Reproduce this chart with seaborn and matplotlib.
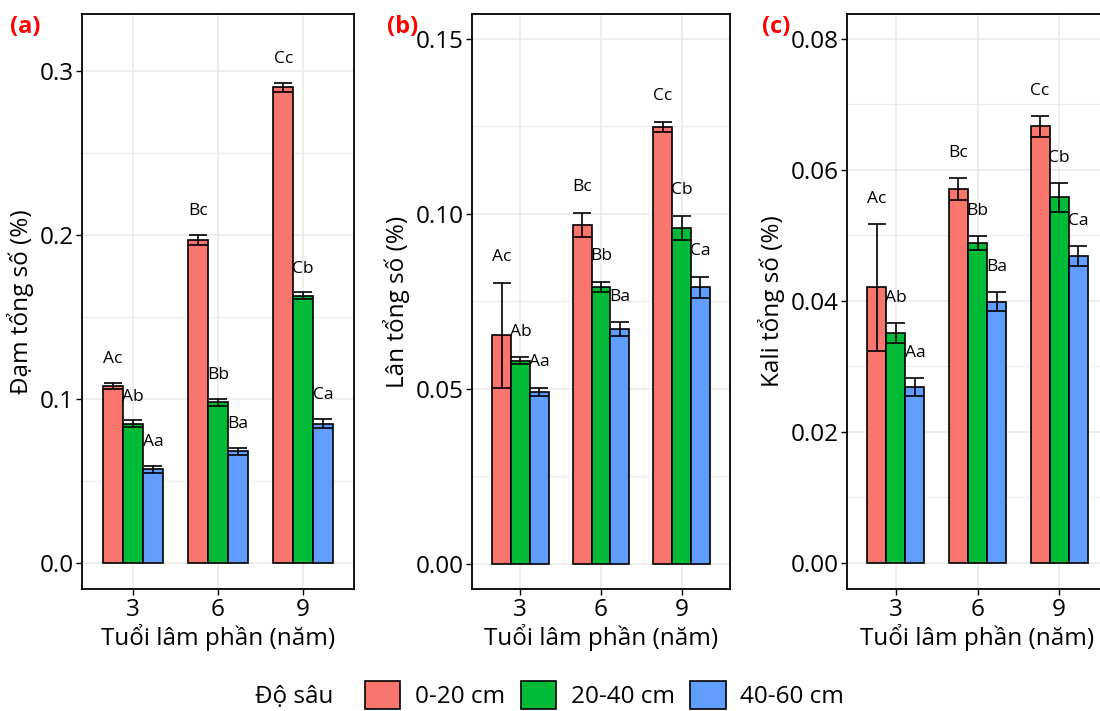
import matplotlib
matplotlib.use("Agg")
import matplotlib.pyplot as plt
from matplotlib.patches import Patch
from matplotlib.ticker import MultipleLocator
import seaborn as sns
import pandas as pd

ages = ["3", "6", "9"]
depths = ["0-20 cm", "20-40 cm", "40-60 cm"]
colors = ["#F8766D", "#00BA38", "#619CFF"]

# values per depth (rows) and stand age (columns)
n_mean = [[0.108, 0.197, 0.290], [0.085, 0.098, 0.163], [0.057, 0.068, 0.085]]
n_se = [[0.002, 0.003, 0.003], [0.002, 0.002, 0.002], [0.002, 0.002, 0.003]]
p_mean = [[0.0654, 0.0969, 0.1248], [0.0580, 0.0791, 0.0960], [0.0491, 0.0671, 0.0791]]
p_se = [[0.0150, 0.0034, 0.0015], [0.0010, 0.0015, 0.0035], [0.0012, 0.0020, 0.0030]]
k_mean = [[0.0421, 0.0571, 0.0667], [0.0351, 0.0488, 0.0558], [0.0269, 0.0399, 0.0469]]
k_se = [[0.0097, 0.0017, 0.0016], [0.0015, 0.0011, 0.0022], [0.0014, 0.0015, 0.0015]]
letters = [["Ac", "Bc", "Cc"], ["Ab", "Bb", "Cb"], ["Aa", "Ba", "Ca"]]

ylabels = ["Đạm tổng số (%)", "Lân tổng số (%)", "Kali tổng số (%)"]
tags = ["(a)", "(b)", "(c)"]

sns.set_style("white")
plt.rcParams["font.family"] = ["Open Sans", "DejaVu Sans"]
plt.rcParams["text.color"] = "black"
plt.rcParams["axes.labelcolor"] = "black"

fig = plt.figure(figsize=(11, 7.11), dpi=100)

panels = [
    (n_mean, n_se, (-0.0159, 0.3348), 0.1, 0.05, 0.0145, "{:.1f}", [82, 272]),
    (p_mean, p_se, (-0.00714, 0.1571), 0.05, 0.025, 0.0073, "{:.2f}", [472, 258]),
    (k_mean, k_se, (-0.00397, 0.0838), 0.02, 0.01, 0.0038, "{:.2f}", [847, 261]),
]
tag_x = [10, 387, 762]

for k, (mean, se, ylim, major, minor, off, fmt, (px, pw)) in enumerate(panels):
    ax = fig.add_axes([px / 1100, (711 - 589) / 711, pw / 1100, 575 / 711])
    df = pd.DataFrame({
        "age": [a for d in depths for a in ages],
        "depth": [d for d in depths for a in ages],
        "value": [v for row in mean for v in row],
    })
    sns.barplot(data=df, x="age", y="value", hue="depth", order=ages,
                hue_order=depths, palette=colors, saturation=1, width=0.7, gap=0,
                errorbar=None, edgecolor="black", linewidth=1.2,
                legend=False, ax=ax, zorder=3)
    bar_conts = list(ax.containers)
    for i, cont in enumerate(bar_conts):
        for j, bar in enumerate(cont):
            x = bar.get_x() + bar.get_width() / 2
            ax.errorbar(x, mean[i][j], yerr=se[i][j], color="black",
                        capsize=6.5, elinewidth=1.2, capthick=1.2, zorder=4)
            ax.text(x, mean[i][j] + se[i][j] + off, letters[i][j],
                    ha="center", va="center", fontsize=12.5, zorder=5)
    ax.set_xlim(-0.6, 2.6)
    ax.set_ylim(*ylim)
    ax.yaxis.set_major_locator(MultipleLocator(major))
    ax.yaxis.set_minor_locator(MultipleLocator(minor))
    ax.yaxis.set_major_formatter(matplotlib.ticker.FuncFormatter(lambda v, p, f=fmt: f.format(v)))
    ax.grid(True, which="major", color="#EBEBEB", lw=1.2, zorder=0)
    ax.grid(True, which="minor", axis="y", color="#EBEBEB", lw=0.9, zorder=0)
    ax.set_axisbelow(True)
    for s in ax.spines.values():
        s.set_color("black")
        s.set_linewidth(1.3)
    ax.tick_params(axis="y", which="major", length=4, width=1,
                   color="black", labelsize=17.5, labelcolor="black",
                   left=True, pad=2)
    ax.tick_params(axis="x", which="major", length=4, width=1,
                   color="black", labelsize=17.5, labelcolor="black",
                   bottom=True, pad=2.5)
    ax.tick_params(axis="y", which="minor", length=0)
    ax.set_xlabel("Tuổi lâm phần (năm)", fontsize=17.5, labelpad=1.5)
    ax.set_ylabel(ylabels[k], fontsize=17.5, labelpad=4)
    fig.text(tag_x[k] / 1100, 1 - 27 / 711, tags[k], color="red",
             fontweight="bold", fontsize=17, va="center", ha="left")

fig.text(255 / 1100, 1 - 697 / 711, "Độ sâu", fontsize=17.5, va="center", ha="left")
handles = [Patch(facecolor=c, edgecolor="black", linewidth=1.2) for c in colors]
fig.legend(handles, depths, loc="center left", bbox_to_anchor=(365 / 1100, 1 - 695 / 711),
           ncol=3, frameon=False, fontsize=17.5, handlelength=1.45, handleheight=1.45,
           handletextpad=0.6, columnspacing=0.65, borderaxespad=0, borderpad=0)

fig.savefig("out.png", dpi=100)
